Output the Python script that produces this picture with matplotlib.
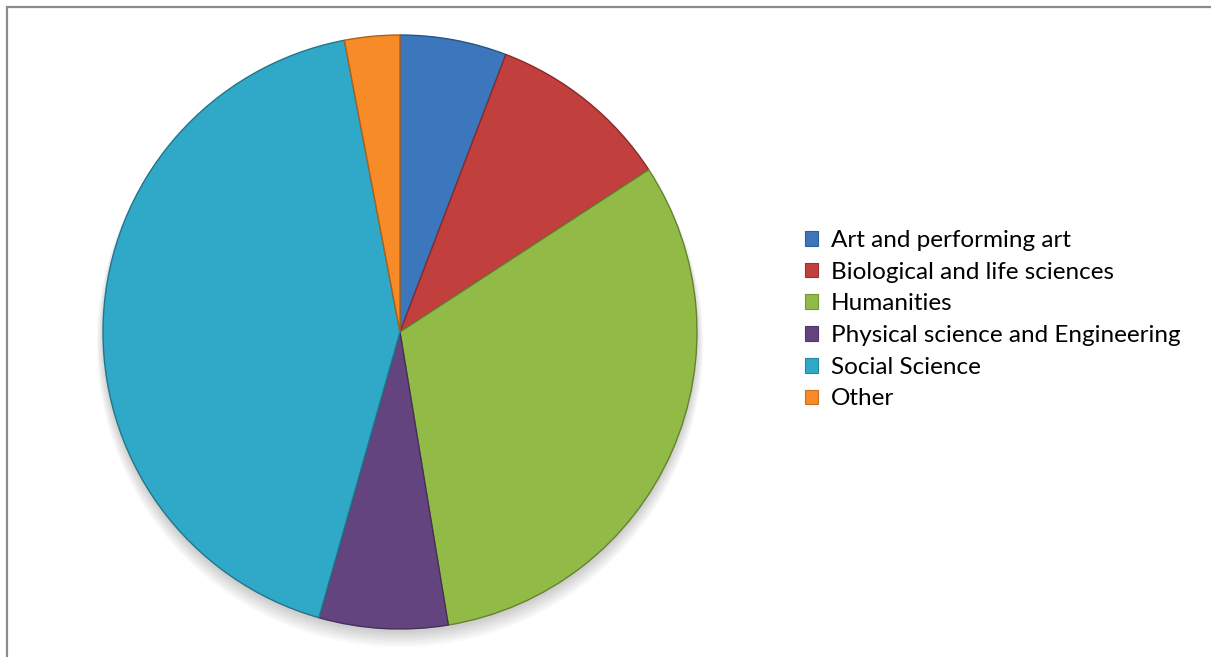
import matplotlib
matplotlib.use('Agg')
import matplotlib.pyplot as plt
from matplotlib.patches import Patch, Circle, Rectangle
import matplotlib.colors as mcolors
import numpy as np

labels = ['Art and performing art', 'Biological and life sciences', 'Humanities',
          'Physical science and Engineering', 'Social Science', 'Other']
shares = [5.8, 10.0, 31.6, 7.0, 42.6, 3.0]
colors = ['#3c76bc', '#c13f3d', '#92ba46', '#64447f', '#30a8c7', '#f68b27']

W, H = 1211, 657
fig = plt.figure(figsize=(W / 100, H / 100), dpi=100)
fig.patch.set_facecolor('white')

# chart frame, cut off at right and bottom
frame = Rectangle((6.5 / W, -0.1), 1.2, 1 - 6.5 / H + 0.1, transform=fig.transFigure,
                  fill=False, edgecolor='#8c8c8c', lw=1.6)
fig.patches.append(frame)

cx, cy, r = 400, 332, 297
ax = fig.add_axes([(cx - r) / W, (H - cy - r) / H, 2 * r / W, 2 * r / H])
ax.axis('off')

# soft shadow under the pie
for k in range(8):
    ax.add_patch(Circle((0, -0.012 - 0.004 * k), 1.0 + 0.003 * k, color='black',
                        alpha=0.025, lw=0, zorder=0, clip_on=False))

def darker(c, f=0.75):
    rgb = np.array(mcolors.to_rgb(c))
    return tuple(rgb * f)

wedges, _ = ax.pie(shares, colors=colors, startangle=90, counterclock=False,
                   radius=1.0, wedgeprops=dict(lw=1.0), normalize=True)
for w, c in zip(wedges, colors):
    w.set_edgecolor(darker(c, 0.7))
    w.set_zorder(2)
    w.set_clip_on(False)
ax.set_xlim(-1, 1)
ax.set_ylim(-1, 1)

handles = [Patch(facecolor=c, edgecolor=darker(c, 0.8), lw=0.8) for c in colors]
fs = 17.5
leg = fig.legend(handles, labels, loc='upper left', bbox_to_anchor=(805 / W, 1 - 230 / H),
                 frameon=False, handlelength=0.55, handleheight=0.55,
                 handletextpad=0.5, labelspacing=0.44, borderpad=0, borderaxespad=0,
                 prop={'family': ['Lato', 'DejaVu Sans'], 'size': fs})

fig.savefig('out.png', dpi=100, facecolor='white')
